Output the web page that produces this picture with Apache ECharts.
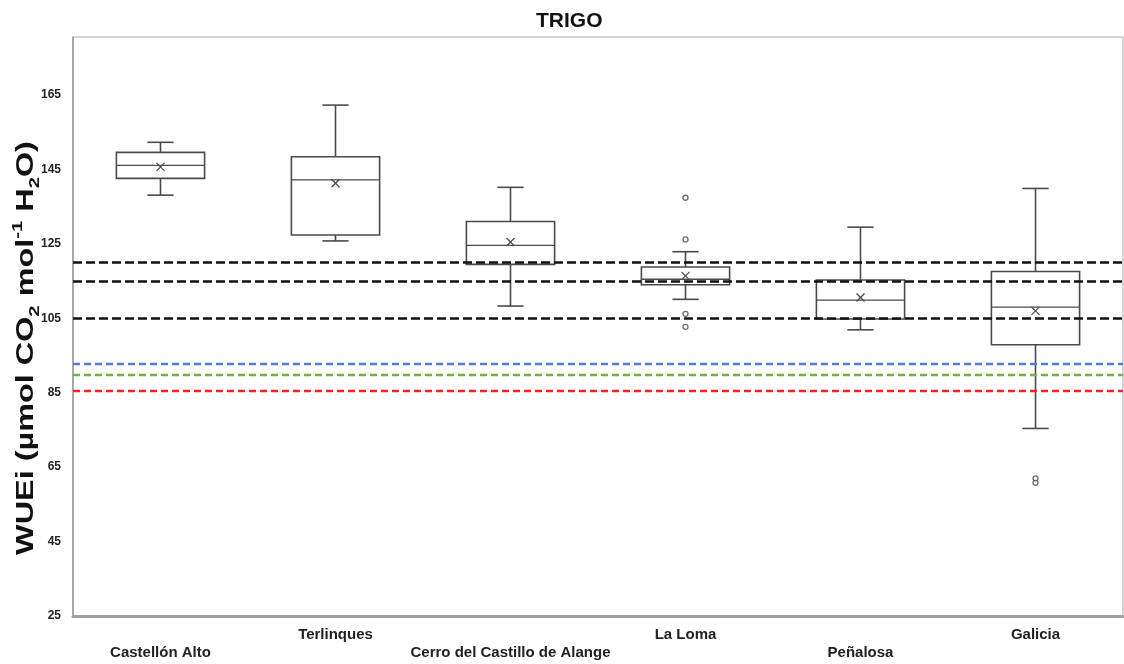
<!DOCTYPE html>
<html>
<head>
<meta charset="utf-8">
<title>TRIGO</title>
<script src="https://cdn.jsdelivr.net/npm/echarts@6/dist/echarts.min.js"></script>
<style>
  html, body { margin: 0; padding: 0; background: #fff; }
  #chart { width: 1124px; height: 664px; }
</style>
</head>
<body>
<div id="chart"></div>
<script>
// Sites along the x axis
const categories = ['Castellón Alto', 'Terlinques', 'Cerro del Castillo de Alange', 'La Loma', 'Peñalosa', 'Galicia'];

// Five-number summaries and means of WUEi per site
const whiskerLow  = [138.1, 125.8, 108.3, 110.1, 101.9, 75.4];
const quartile1   = [142.6, 127.4, 119.5, 114.0, 104.8, 97.9];
const medians     = [146.1, 142.2, 124.6, 115.5, 109.9, 108.0];
const quartile3   = [149.6, 148.4, 131.0, 118.8, 115.3, 117.6];
const whiskerHigh = [152.3, 162.3, 140.2, 122.9, 129.5, 139.9];
const means       = [145.7, 141.3, 125.5, 116.4, 110.6, 107.0];

// Outlying points: [site index, value]
const outliers = [[3, 137.4], [3, 126.2], [3, 106.2], [3, 102.7], [5, 62.0], [5, 60.8]];

// Horizontal reference levels
const blackRefs = [120, 115, 105];
const blueRef = 92.8;
const greenRef = 89.7;
const redRef = 85.5;

// Y axis range and tick step
const yMin = 25;
const yMax = 180.6;
const yStep = 20;

const boxData = categories.map((c, i) => [i, whiskerLow[i], quartile1[i], medians[i], quartile3[i], whiskerHigh[i], means[i]]);

const STROKE = '#4a4a4a';
const FONT = 'Liberation Sans, Arial, sans-serif';

function renderBox(params, api) {
  const i = api.value(0);
  const pLow = api.coord([i, api.value(1)]);
  const pQ1 = api.coord([i, api.value(2)]);
  const pMed = api.coord([i, api.value(3)]);
  const pQ3 = api.coord([i, api.value(4)]);
  const pHigh = api.coord([i, api.value(5)]);
  const pMean = api.coord([i, api.value(6)]);
  const bandW = api.size([1, 0])[0];
  const halfBox = bandW * 0.252;
  const halfCap = bandW * 0.075;
  const x = pMed[0];
  const st = { stroke: STROKE, lineWidth: 1.6, fill: null };
  const line = (x1, y1, x2, y2, w) => ({
    type: 'line',
    shape: { x1: x1, y1: y1, x2: x2, y2: y2 },
    style: Object.assign({}, st, w ? { lineWidth: w } : {})
  });
  const m = 4;
  return {
    type: 'group',
    children: [
      line(x, pQ3[1], x, pHigh[1]),
      line(x, pQ1[1], x, pLow[1]),
      line(x - halfCap, pHigh[1], x + halfCap, pHigh[1]),
      line(x - halfCap, pLow[1], x + halfCap, pLow[1]),
      {
        type: 'rect',
        shape: { x: x - halfBox, y: pQ3[1], width: halfBox * 2, height: pQ1[1] - pQ3[1] },
        style: { stroke: STROKE, lineWidth: 1.6, fill: 'rgba(255,255,255,0)' }
      },
      line(x - halfBox, pMed[1], x + halfBox, pMed[1], 1.4),
      line(pMean[0] - m, pMean[1] - m, pMean[0] + m, pMean[1] + m, 1.3),
      line(pMean[0] - m, pMean[1] + m, pMean[0] + m, pMean[1] - m, 1.3)
    ]
  };
}

function refLine(value, color, width, dash) {
  return {
    yAxis: value,
    lineStyle: { color: color, width: width, type: dash }
  };
}

const chart = echarts.init(document.getElementById('chart'), null, { renderer: 'canvas' });

chart.setOption({
  backgroundColor: '#ffffff',
  animation: false,
  title: {
    text: 'TRIGO',
    left: 531,
    top: 6,
    textStyle: { fontFamily: FONT, fontWeight: 'bold', fontSize: 21, color: '#111' }
  },
  grid: {
    left: 73, right: 1, top: 37, bottom: 48,
    outerBoundsMode: 'none',
    containLabel: false,
    show: true, borderColor: '#a6a6a6', borderWidth: 1, backgroundColor: 'transparent'
  },
  xAxis: {
    type: 'category',
    data: categories,
    boundaryGap: true,
    axisLine: { show: true, lineStyle: { color: '#a0a0a0', width: 3 } },
    axisTick: { show: false },
    splitLine: { show: false },
    axisLabel: {
      interval: 0,
      margin: 10,
      lineHeight: 18,
      fontFamily: FONT,
      fontWeight: 'bold',
      fontSize: 15,
      color: '#222',
      formatter: (v, i) => (i % 2 === 0 ? '\n' + v : v)
    }
  },
  yAxis: {
    type: 'value',
    min: yMin,
    max: yMax,
    interval: yStep,
    axisLine: { show: true, lineStyle: { color: '#9a9a9a', width: 1.5 } },
    axisTick: { show: false },
    splitLine: { show: false },
    axisLabel: {
      showMaxLabel: false,
      margin: 12,
      fontFamily: FONT,
      fontWeight: 'bold',
      fontSize: 12,
      color: '#222'
    }
  },
  graphic: [
    {
      // y axis title, stretched along its reading direction
      type: 'text',
      x: 26,
      y: 348,
      rotation: Math.PI / 2,
      scaleX: 1.35,
      style: {
        text: '{n|WUEi (µmol CO}{sub|2}{n| mol}{sup|-1}{n| H}{sub|2}{n|O)}',
        align: 'center',
        verticalAlign: 'middle',
        rich: {
          n: { fontFamily: FONT, fontWeight: 'bold', fontSize: 24, lineHeight: 32, fill: '#111' },
          sub: { fontFamily: FONT, fontWeight: 'bold', fontSize: 15, lineHeight: 32, verticalAlign: 'bottom', fill: '#111' },
          sup: { fontFamily: FONT, fontWeight: 'bold', fontSize: 15, lineHeight: 32, verticalAlign: 'top', fill: '#111' }
        }
      }
    }
  ],
  series: [
    {
      name: 'Sitios',
      type: 'custom',
      renderItem: renderBox,
      data: boxData,
      encode: { x: 0, y: [1, 2, 3, 4, 5, 6] },
      z: 3,
      markLine: {
        silent: true,
        symbol: 'none',
        label: { show: false },
        z: 4,
        data: blackRefs.map(v => refLine(v, '#111111', 2.6, [9, 4]))
          .concat([
            refLine(blueRef, '#4d7fd6', 2.4, [7, 4]),
            refLine(greenRef, '#73b240', 2.4, [7, 4]),
            refLine(redRef, '#ff1f1f', 2.4, [7, 4])
          ])
      }
    },
    {
      name: 'Valores atípicos',
      type: 'scatter',
      data: outliers,
      symbol: 'circle',
      symbolSize: 5,
      itemStyle: { color: '#ffffff', borderColor: STROKE, borderWidth: 1.3 },
      z: 5
    }
  ]
});
</script>
</body>
</html>
